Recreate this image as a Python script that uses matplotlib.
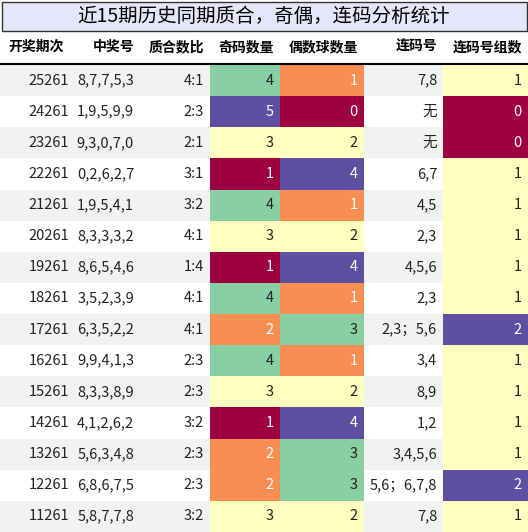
import matplotlib.pyplot as plt
from matplotlib.patches import Rectangle

plt.rcParams['font.family'] = ['Noto Sans CJK SC', 'DejaVu Sans']

title = "近15期历史同期质合，奇偶，连码分析统计"
headers = ["开奖期次", "中奖号", "质合数比", "奇码数量", "偶数球数量", "连码号", "连码号组数"]
periods = ["25261", "24261", "23261", "22261", "21261", "20261", "19261", "18261",
           "17261", "16261", "15261", "14261", "13261", "12261", "11261"]
numbers = ["8,7,7,5,3", "1,9,5,9,9", "9,3,0,7,0", "0,2,6,2,7", "1,9,5,4,1", "8,3,3,3,2",
           "8,6,5,4,6", "3,5,2,3,9", "6,3,5,2,2", "9,9,4,1,3", "8,3,3,8,9", "4,1,2,6,2",
           "5,6,3,4,8", "6,8,6,7,5", "5,8,7,7,8"]
ratios = ["4:1", "2:3", "2:1", "3:1", "3:2", "4:1", "1:4", "4:1", "4:1", "2:3", "2:3",
          "3:2", "2:3", "2:3", "3:2"]
odd_cnt = [4, 5, 3, 1, 4, 3, 1, 4, 2, 4, 3, 1, 2, 2, 3]
even_cnt = [1, 0, 2, 4, 1, 2, 4, 1, 3, 1, 2, 4, 3, 3, 2]
consec = ["7,8", "无", "无", "6,7", "4,5", "2,3", "4,5,6", "2,3", "2,3；5,6", "3,4",
          "8,9", "1,2", "3,4,5,6", "5,6；6,7,8", "7,8"]
consec_cnt = [1, 0, 0, 1, 1, 1, 1, 1, 2, 1, 1, 1, 1, 2, 1]

RED, ORG, YEL, GRN, PUR = "#9e0142", "#f98e52", "#ffffbf", "#88cfa4", "#5e4fa2"
odd_col = {1: RED, 2: ORG, 3: YEL, 4: GRN, 5: PUR}
even_col = {0: RED, 1: ORG, 2: YEL, 3: GRN, 4: PUR}
cnt_col = {0: RED, 1: YEL, 2: PUR}
dark = {RED, ORG, PUR}

edges = [0, 75, 140, 210, 280, 364, 443, 528]
W, H = 528, 532
fig = plt.figure(figsize=(W / 100, H / 100), dpi=100)
ax = fig.add_axes([0, 0, 1, 1])
ax.set_xlim(0, W)
ax.set_ylim(H, 0)
ax.axis('off')

ax.add_patch(Rectangle((1.5, 1.5), W - 3, 29, facecolor="#e6e6fa", edgecolor="#333333", lw=1))
ax.text(W / 2, 16, title, ha='center', va='center', fontsize=14)

hy = 47
for i, h in enumerate(headers):
    if i == 0:
        ax.text(edges[0] + 8, hy, h, ha='left', va='center', fontsize=10, fontweight='bold')
    else:
        ax.text(edges[i + 1] - 6, hy, h, ha='right', va='center', fontsize=10, fontweight='bold')
ax.plot([0, W], [64, 64], color='black', lw=1.5)

top, rh = 65, (H - 65) / 15
for r in range(15):
    y0 = top + r * rh
    ax.add_patch(Rectangle((0, y0), W, rh, facecolor="#f2f2f2" if r % 2 == 0 else "white", lw=0))
    fills = {3: odd_col[odd_cnt[r]], 4: even_col[even_cnt[r]], 6: cnt_col[consec_cnt[r]]}
    vals = [periods[r], numbers[r], ratios[r], str(odd_cnt[r]), str(even_cnt[r]), consec[r], str(consec_cnt[r])]
    for c, v in enumerate(vals):
        tc = "#222222"
        if c in fills:
            ax.add_patch(Rectangle((edges[c], y0), edges[c + 1] - edges[c], rh, facecolor=fills[c], lw=0))
            if fills[c] in dark:
                tc = "white"
        ax.text(edges[c + 1] - 6, y0 + rh / 2, v, ha='right', va='center', fontsize=10.5, color=tc)

fig.savefig("out.png", dpi=100)
